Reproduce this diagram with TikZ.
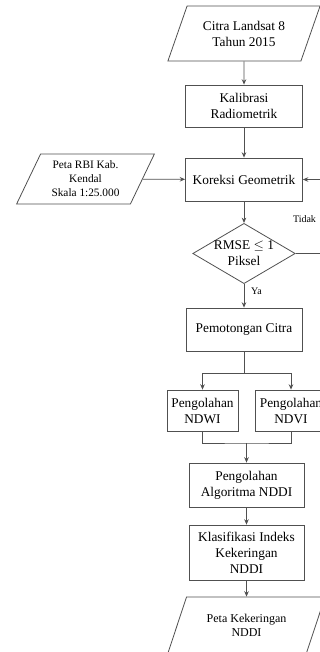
\documentclass[tikz,border=0pt]{standalone}
\usepackage{fontspec}
\setmainfont{Liberation Serif}
\usetikzlibrary{positioning,shapes.geometric,arrows.meta}

\definecolor{linegray}{HTML}{505050}
\tikzset{
  box/.style={rectangle, draw=linegray, line width=0.6pt, align=center, inner sep=1pt, font=\fontsize{10}{12}\selectfont},
  data/.style={trapezium, trapezium left angle=63, trapezium right angle=117, trapezium stretches=true, draw=linegray, line width=0.6pt, align=center, inner sep=1pt},
  decision/.style={diamond, draw=linegray, line width=0.6pt, aspect=1.7, inner sep=0pt, align=center, font=\fontsize{10}{12}\selectfont},
  arrow/.style={-{Stealth[length=4pt,width=3.4pt]}, draw=linegray, line width=0.6pt},
  line/.style={draw=linegray, line width=0.6pt},
  note/.style={font=\fontsize{7.5}{9}\selectfont, inner sep=0pt}
}

\begin{document}
\begin{tikzpicture}[x=0.75pt, y=-0.75pt]
\path[use as bounding box, clip] (0,0) rectangle (320,652);

% Nodes
\node[data, minimum width=114.75pt, minimum height=41.25pt, font=\fontsize{10}{12}\selectfont] (citra) at (244,33.5) {Citra Landsat 8\\Tahun 2015};
\node[box, minimum width=87.75pt, minimum height=31.5pt] (kalibrasi) at (244,106) {Kalibrasi\\Radiometrik};
\node[box, minimum width=87.75pt, minimum height=32.25pt] (koreksi) at (244,179.5) {Koreksi Geometrik};
\node[data, trapezium left angle=64, trapezium right angle=116, minimum width=104.25pt, minimum height=37.5pt, font=\fontsize{8.5}{10.5}\selectfont] (rbi) at (85.5,179) {Peta RBI Kab.\\Kendal\\Skala 1:25.000};
\node[decision, minimum width=72pt, minimum height=42.75pt] (rmse) at (244,253.5) {RMSE $\leq$ 1\\Piksel};
\node[box, minimum width=87pt, minimum height=32.25pt] (potong) at (244,329.5) {Pemotongan Citra};
\node[box, minimum width=53.25pt, minimum height=30.75pt] (ndwi) at (202.5,410.5) {Pengolahan\\NDWI};
\node[box, minimum width=53.25pt, minimum height=30.75pt] (ndvi) at (291,410.5) {Pengolahan\\NDVI};
\node[box, minimum width=86.25pt, minimum height=33pt] (nddi) at (246.5,485) {Pengolahan\\Algoritma NDDI};
\node[box, minimum width=86.25pt, minimum height=41.25pt] (klasifikasi) at (246.5,552.5) {Klasifikasi Indeks\\Kekeringan\\NDDI};
\node[data, minimum width=118.5pt, minimum height=42pt, font=\fontsize{9}{10.5}\selectfont] (hasil) at (246.5,625) {Peta Kekeringan\\NDDI};

\coordinate (balik) at (326,0);
\coordinate (cabang) at (244,373);
\coordinate (gabung) at (246.5,443);

% Edges
\draw[arrow] (citra) -- (kalibrasi);
\draw[arrow] (kalibrasi) -- (koreksi);
\draw[arrow] (rbi) -- (koreksi);
\draw[arrow] (koreksi) -- (rmse);
\draw[arrow] (rmse.east) -- (rmse.east -| balik) |- (koreksi.east);
\node[note] at (304.5,219) {Tidak};
\draw[arrow] (rmse) -- (potong) node[note, pos=0.3, right=5pt] {Ya};
\draw[line] (potong) -- (cabang);
\draw[arrow] (cabang) -| (ndwi.north);
\draw[arrow] (cabang) -| (ndvi.north);
\draw[line] (ndwi.south) |- (gabung) -| (ndvi.south);
\draw[arrow, line width=0.9pt] (gabung) -- (nddi);
\draw[arrow] (nddi) -- (klasifikasi);
\draw[arrow] (klasifikasi) -- (hasil);
\end{tikzpicture}
\end{document}
